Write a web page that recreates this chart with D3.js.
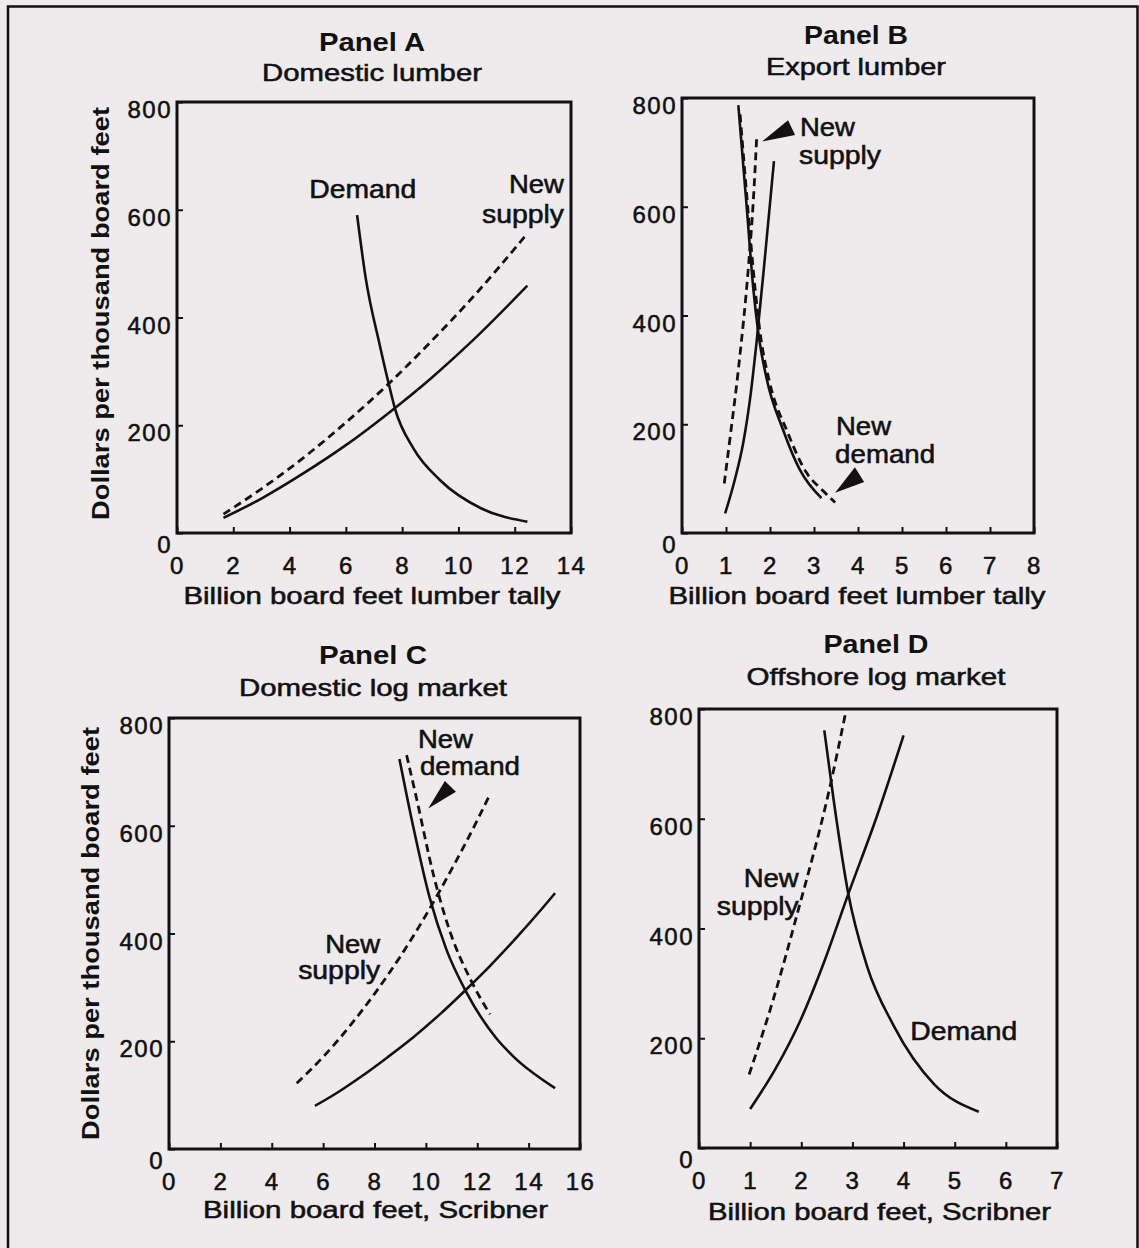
<!DOCTYPE html>
<html>
<head>
<meta charset="utf-8">
<script src="https://cdn.jsdelivr.net/npm/d3@7"></script>
<style>
  body { margin: 0; background: #efebed; }
  text { font-family: "Liberation Sans", Arial, Helvetica, sans-serif; fill: #111; }
  text.reg { stroke: #111; stroke-width: 0.55px; }
</style>
</head>
<body>
<svg id="chart" width="1139" height="1248"></svg>
<script>
// values (x = billion board feet, y = dollars per MBF)
const yTicks = [0, 200, 400, 600, 800];
const xTicksA = [0, 2, 4, 6, 8, 10, 12, 14];
const xTicksB = [0, 1, 2, 3, 4, 5, 6, 7, 8];
const xTicksC = [0, 2, 4, 6, 8, 10, 12, 14, 16];
const xTicksD = [0, 1, 2, 3, 4, 5, 6, 7];

const demandA = [[6.4,590],[6.7,475],[7.2,350],[7.5,282],[7.75,230],[8.4,157],[9.35,98],[10.8,46],[12.45,21]];
const supplyA = [[1.65,28],[3,64],[4.5,111],[6,163],[7.5,222],[9,286],[10.5,357],[12.45,459]];
const newSupplyA = [[1.65,35],[3,82],[4.5,140],[6,205],[7.5,276],[9,354],[10.5,437],[12.45,556]];

const demandB = [[1.28,787],[1.48,590],[1.62,450],[1.74,365],[1.92,285],[2.3,189],[2.68,116],[3.17,64]];
const newDemandB = [[1.32,770],[1.52,575],[1.66,450],[1.78,365],[1.98,281],[2.4,185],[2.82,112],[3.2,78],[3.48,56]];
const supplyB = [[0.98,36],[1.2,98],[1.39,165],[1.56,255],[1.7,355],[1.9,520],[2.09,684]];
const newSupplyB = [[0.96,91],[1.1,180],[1.28,300],[1.51,490],[1.62,610],[1.7,732]];

const demandC = [[8.97,724],[9.5,600],[10.15,466],[10.8,370],[11.6,289],[12.75,205],[13.4,172],[15.03,113]];
const newDemandC = [[9.25,731],[9.64,650],[10.29,510],[10.81,422],[11.85,304],[12.5,250]];
const supplyC = [[5.68,80],[6.5,103],[7.5,135],[8.5,170],[9.5,207],[10.5,248],[11.59,297],[12.5,340],[13.5,391],[14.5,445],[15.03,475]];
const newSupplyC = [[4.97,122],[6,171],[7,226],[8,288],[9,357],[10,434],[11,519],[12,610],[12.47,656]];

const demandD = [[2.45,761],[2.63,636],[2.92,463],[3.28,333],[3.8,224],[4.6,116],[5.47,66]];
const supplyD = [[1.0,71],[1.5,145],[1.98,232],[2.45,340],[2.92,463],[3.48,605],[4.0,752]];
const newSupplyD = [[0.98,134],[1.45,270],[1.91,423],[2.56,658],[2.86,790]];

// arrow heads, in data units
const arrowB1 = [[1.82,720],[2.41,759],[2.57,732]];
const arrowB2 = [[3.48,74],[3.93,121],[4.14,94]];
const arrowC = [[10.09,632],[10.74,683],[11.17,663]];

// curve labels, in data units
const notesA = [["Demand",6.6,639,"middle"],["New",13.75,647,"end"],["supply",13.75,592,"end"]];
const notesB = [["New",2.68,746,"start"],["supply",2.66,695,"start"],["New",3.5,196,"start"],["demand",3.48,145,"start"]];
const notesC = [["New",9.69,761,"start"],["demand",9.77,711,"start"],["New",8.22,381,"end"],["supply",8.22,332,"end"]];
const notesD = [["New",1.95,492,"end"],["supply",1.95,441,"end"],["Demand",4.13,214,"start"]];

const wordWidth = { New: 55, supply: 82, demand: 100, Demand: 107 };

const panels = [
  { left:177, right:571, top:102, bottom:533, xTicks:xTicksA, title:"Panel A", sub:"Domestic lumber",
    tx:372, ty:42, sy:72.6, tLen:106, sLen:220, xTitle:"Billion board feet lumber tally", xtx:372, xty:595, xtLen:377,
    ytx:100.7, yty:313.5,
    solid:[demandA, supplyA], dashed:[newSupplyA], arrows:[], notes:notesA },
  { left:682, right:1034, top:98, bottom:533, xTicks:xTicksB, title:"Panel B", sub:"Export lumber",
    tx:856, ty:35, sy:66.7, tLen:104, sLen:180, xTitle:"Billion board feet lumber tally", xtx:857, xty:595, xtLen:377,
    solid:[demandB, supplyB], dashed:[newDemandB, newSupplyB], arrows:[arrowB1, arrowB2], notes:notesB },
  { left:169, right:580, top:718, bottom:1149, xTicks:xTicksC, title:"Panel C", sub:"Domestic log market",
    tx:373, ty:655, sy:687.5, tLen:108, sLen:268, xTitle:"Billion board feet, Scribner", xtx:375.5, xty:1209, xtLen:345,
    ytx:90, yty:933.5,
    solid:[demandC, supplyC], dashed:[newDemandC, newSupplyC], arrows:[arrowC], notes:notesC },
  { left:699, right:1057, top:709, bottom:1148, xTicks:xTicksD, title:"Panel D", sub:"Offshore log market",
    tx:876, ty:644, sy:676, tLen:105, sLen:259, xTitle:"Billion board feet, Scribner", xtx:879.5, xty:1211, xtLen:343,
    solid:[demandD, supplyD], dashed:[newSupplyD], arrows:[], notes:notesD }
];

const svg = d3.select("#chart");
svg.append("rect").attr("width", 1139).attr("height", 1248).attr("fill", "#efebed");

// outer frame (open at the bottom, like the scan)
svg.append("path")
  .attr("d", "M8,1252V6.5H1137.5V1252")
  .attr("fill", "none").attr("stroke", "#111").attr("stroke-width", 2.5);

function addText(g, str, x, y, size, weight, len, anchor) {
  const t = g.append("text")
    .attr("class", weight === "bold" ? "bld" : "reg")
    .attr("x", x).attr("y", y)
    .attr("text-anchor", anchor || "middle")
    .attr("dominant-baseline", "central")
    .attr("font-size", size)
    .attr("font-weight", weight)
    .text(str);
  if (len) t.attr("textLength", len).attr("lengthAdjust", "spacingAndGlyphs");
  return t;
}

panels.forEach(p => {
  const g = svg.append("g");
  const x = d3.scaleLinear().domain([0, d3.max(p.xTicks)]).range([p.left, p.right]);
  const y = d3.scaleLinear().domain([0, 800]).range([p.bottom, p.top]);

  // x axis, ticks pointing inward
  const xa = g.append("g")
    .attr("transform", `translate(0,${p.bottom})`)
    .call(d3.axisBottom(x).tickValues(p.xTicks).tickFormat(d3.format("d")).tickSize(-6).tickPadding(23.5))
    .attr("font-family", null).attr("font-size", null);
  xa.select(".domain").remove();
  xa.selectAll("line").attr("stroke", "#111").attr("stroke-width", 2);
  xa.selectAll("text").attr("class", "reg").attr("font-size", 24).attr("letter-spacing", 1.5).attr("fill", "#111");

  // y axis
  const ya = g.append("g")
    .attr("transform", `translate(${p.left},0)`)
    .call(d3.axisLeft(y).tickValues(yTicks).tickFormat(d3.format("d")).tickSize(-6).tickPadding(5))
    .attr("font-family", null).attr("font-size", null);
  ya.select(".domain").remove();
  ya.selectAll("line").attr("stroke", "#111").attr("stroke-width", 2);
  ya.selectAll("text").attr("class", "reg").attr("font-size", 24).attr("letter-spacing", 1.5).attr("fill", "#111")
    .attr("dy", d => d === 0 ? "19px" : "15.5px");

  // plot frame
  g.append("rect")
    .attr("x", p.left).attr("y", p.top)
    .attr("width", p.right - p.left).attr("height", p.bottom - p.top)
    .attr("fill", "none").attr("stroke", "#111").attr("stroke-width", 3);

  const line = d3.line().x(d => x(d[0])).y(d => y(d[1])).curve(d3.curveMonotoneX);

  g.selectAll(null).data(p.solid).join("path")
    .attr("d", line)
    .attr("fill", "none").attr("stroke", "#111").attr("stroke-width", 2.6);

  g.selectAll(null).data(p.dashed).join("path")
    .attr("d", line)
    .attr("fill", "none").attr("stroke", "#111").attr("stroke-width", 2.8)
    .attr("stroke-dasharray", "8,5");

  g.selectAll(null).data(p.arrows).join("path")
    .attr("d", a => "M" + a.map(d => [x(d[0]), y(d[1])].join(",")).join("L") + "Z")
    .attr("fill", "#111");

  p.notes.forEach(n => addText(g, n[0], x(n[1]), y(n[2]), 25, "normal", wordWidth[n[0]], n[3]));

  // titles
  addText(g, p.title, p.tx, p.ty, 25, "bold", p.tLen);
  addText(g, p.sub, p.tx, p.sy, 24, "normal", p.sLen);
  addText(g, p.xTitle, p.xtx, p.xty, 24, "normal", p.xtLen);
  if (p.ytx) {
    addText(g, "Dollars per thousand board feet", 0, 0, 24, "bold", 413)
      .attr("transform", `translate(${p.ytx},${p.yty}) rotate(-90)`);
  }
});
</script>
</body>
</html>
